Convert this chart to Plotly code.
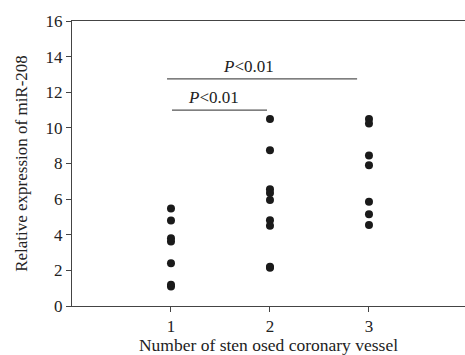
import plotly.graph_objects as go

# Data
group1 = [5.48, 4.80, 3.80, 3.62, 2.40, 1.20, 1.10]
group2 = [10.5, 8.75, 6.55, 6.35, 5.95, 4.82, 4.50, 2.20, 2.15]
group3 = [10.5, 10.25, 8.45, 7.90, 5.85, 5.15, 4.55]
groups = [1, 2, 3]

# Significance brackets
sig_x0 = [0.96, 1.01]
sig_x1 = [2.88, 1.97]
sig_y = [12.75, 11.0]
sig_label_x = [1.78, 1.43]
sig_label_y = [13.45, 11.7]
sig_text = ["<i>P</i><0.01", "<i>P</i><0.01"]

FONT = "Liberation Serif"
INK = "#1a1a1a"

fig = go.Figure()
for g, vals in zip(groups, [group1, group2, group3]):
    fig.add_trace(go.Scatter(
        x=[g] * len(vals), y=vals, mode="markers",
        marker=dict(size=8, color=INK, line=dict(width=0)),
        showlegend=False, hoverinfo="y"))

for x0, x1, y, lx, ly, t in zip(sig_x0, sig_x1, sig_y, sig_label_x, sig_label_y, sig_text):
    fig.add_shape(type="line", x0=x0, x1=x1, y0=y, y1=y, xref="x", yref="y",
                  line=dict(color="#555555", width=1.2))
    fig.add_annotation(x=lx, y=ly, xref="x", yref="y", text=t, showarrow=False,
                       font=dict(family=FONT, size=17, color="#222222"),
                       yanchor="middle")

fig.update_layout(
    width=465, height=355,
    margin=dict(l=72, r=0, t=21, b=49),
    paper_bgcolor="white", plot_bgcolor="white",
    font=dict(family=FONT, size=17, color="#222222"),
    xaxis=dict(range=[0, 3.97], tickvals=[1, 2, 3], ticktext=["1", "2", "3"],
               ticks="outside", ticklen=5, tickcolor="#444444",
               tickfont=dict(family=FONT, size=17),
               showline=True, linecolor="#444444", linewidth=1, mirror=True,
               showgrid=False, zeroline=False,
               title=dict(text="Number of sten osed coronary vessel",
                          font=dict(family=FONT, size=17.5), standoff=6)),
    yaxis=dict(range=[0, 16], tickvals=list(range(0, 17, 2)),
               ticks="outside", ticklen=5, tickcolor="#444444",
               tickfont=dict(family=FONT, size=17),
               showline=True, linecolor="#444444", linewidth=1,
               showgrid=False, zeroline=False,
               title=dict(text="Relative expression of miR-208",
                          font=dict(family=FONT, size=17), standoff=13)),
)

fig.write_html("out.html")
